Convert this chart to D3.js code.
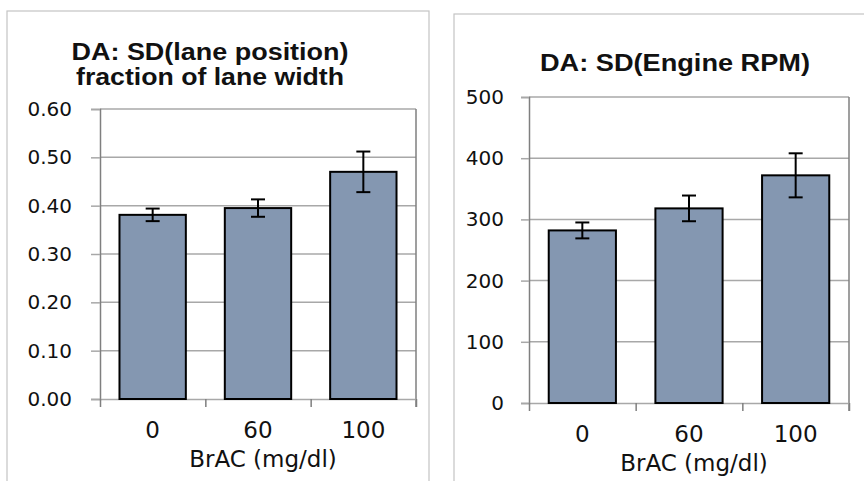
<!DOCTYPE html>
<html>
<head>
<meta charset="utf-8">
<script src="https://cdn.jsdelivr.net/npm/d3@7"></script>
<style>
  body { margin: 0; background: #fff; }
  svg { display: block; }
</style>
</head>
<body>
<svg width="864" height="481"></svg>
<script>
// data
const categories = ["0", "60", "100"];
const laneValues = [0.381, 0.395, 0.470];
const laneErrors = [0.013, 0.018, 0.042];
const rpmValues = [282, 318, 372];
const rpmErrors = [13, 21, 36];
const laneTicks = [0, 0.1, 0.2, 0.3, 0.4, 0.5, 0.6];
const rpmTicks = [0, 100, 200, 300, 400, 500];
const laneTitle = ["DA: SD(lane position)", "fraction of lane width"];
const rpmTitle = ["DA: SD(Engine RPM)"];
const xTitle = "BrAC (mg/dl)";

const svg = d3.select("svg");

const barFill = "#8497b1",
      gridColor = "#a8a8a8",
      frameColor = "#7f7f7f";

function drawPanel(opt) {
  const g = svg.append("g");

  // outer chart frame (runs off the picture)
  g.append("rect")
    .attr("x", opt.frame[0]).attr("y", opt.frame[1])
    .attr("width", opt.frame[2]).attr("height", opt.frame[3])
    .attr("fill", "none")
    .attr("stroke", "#c4c4c4")
    .attr("stroke-width", 1.2);

  const [x0, x1] = opt.xr, [y0, y1] = opt.yr;

  const y = d3.scaleLinear()
    .domain([0, opt.max])
    .range([y0, y1]);

  const x = d3.scaleBand()
    .domain(categories)
    .range([x0, x1])
    .paddingInner(0.37)
    .paddingOuter(0.185);

  const xb = d3.scaleLinear()
    .domain([0, categories.length])
    .range([x0, x1]);

  // gridlines
  g.append("g")
    .selectAll("line")
    .data(opt.ticks.slice(1))
    .enter().append("line")
    .attr("x1", x0).attr("x2", x1)
    .attr("y1", d => y(d)).attr("y2", d => y(d))
    .attr("stroke", gridColor)
    .attr("stroke-width", 1.5);

  // right border
  g.append("line")
    .attr("x1", x1).attr("x2", x1)
    .attr("y1", y(opt.max)).attr("y2", y0 + 8)
    .attr("stroke", frameColor)
    .attr("stroke-width", 1.5);

  // y axis
  const ya = g.append("g")
    .attr("transform", `translate(${x0},0)`)
    .call(d3.axisLeft(y)
      .tickValues(opt.ticks)
      .tickSize(opt.tickSize)
      .tickPadding(opt.tickPad)
      .tickFormat(opt.format));
  ya.select(".domain").attr("stroke", frameColor).attr("stroke-width", 1.5);
  ya.selectAll(".tick line").attr("stroke", gridColor).attr("stroke-width", 1.5);
  ya.selectAll("text")
    .attr("fill", "#111")
    .style("font-family", "DejaVu Sans")
    .style("font-size", "20px");

  // x axis: ticks at category boundaries
  const xa = g.append("g")
    .attr("transform", `translate(0,${y0})`)
    .call(d3.axisBottom(xb)
      .tickValues(d3.range(categories.length + 1))
      .tickSize(8)
      .tickSizeOuter(0)
      .tickFormat(""));
  xa.select(".domain").attr("stroke", gridColor).attr("stroke-width", 1.5);
  xa.selectAll(".tick line").attr("stroke", frameColor).attr("stroke-width", 1.5);

  // bars
  g.append("g")
    .selectAll("rect")
    .data(opt.values)
    .enter().append("rect")
    .attr("x", (d, i) => x(categories[i]))
    .attr("width", x.bandwidth())
    .attr("y", d => y(d))
    .attr("height", d => y0 - y(d))
    .attr("fill", barFill)
    .attr("stroke", "#000")
    .attr("stroke-width", 2);

  // error bars
  const eb = g.append("g")
    .selectAll("g")
    .data(opt.values.map((v, i) => ({ v: v, e: opt.errors[i], c: categories[i] })))
    .enter().append("g")
    .attr("stroke", "#000")
    .attr("stroke-width", 2);
  const cx = d => x(d.c) + x.bandwidth() / 2;
  eb.append("line")
    .attr("x1", cx).attr("x2", cx)
    .attr("y1", d => y(d.v + d.e)).attr("y2", d => y(d.v - d.e));
  eb.append("line")
    .attr("x1", d => cx(d) - 7).attr("x2", d => cx(d) + 7)
    .attr("y1", d => y(d.v + d.e)).attr("y2", d => y(d.v + d.e));
  eb.append("line")
    .attr("x1", d => cx(d) - 7).attr("x2", d => cx(d) + 7)
    .attr("y1", d => y(d.v - d.e)).attr("y2", d => y(d.v - d.e));

  // category labels
  g.append("g")
    .selectAll("text")
    .data(categories)
    .enter().append("text")
    .attr("x", d => x(d) + x.bandwidth() / 2)
    .attr("y", y0 + 39)
    .attr("text-anchor", "middle")
    .attr("fill", "#111")
    .style("font-family", "DejaVu Sans")
    .style("font-size", "23px")
    .text(d => d);

  g.append("text")
    .attr("x", (x0 + x1) / 2 + 5)
    .attr("y", y0 + 68)
    .attr("text-anchor", "middle")
    .attr("fill", "#111")
    .style("font-family", "DejaVu Sans")
    .style("font-size", "23px")
    .text(xTitle);

  // title
  g.append("g")
    .selectAll("text")
    .data(opt.title)
    .enter().append("text")
    .attr("x", opt.titleX)
    .attr("y", (d, i) => opt.titleY + i * 25)
    .attr("text-anchor", "middle")
    .attr("fill", "#111")
    .attr("textLength", (d, i) => opt.titleW[i])
    .attr("lengthAdjust", "spacingAndGlyphs")
    .style("font-family", "Liberation Sans, Arial, sans-serif")
    .style("font-weight", "bold")
    .style("font-size", "23px")
    .text(d => d);
}

drawPanel({
  frame: [7, 11, 422, 520],
  xr: [100, 416], yr: [399, 109],
  max: 0.6, ticks: laneTicks, format: d3.format(".2f"),
  values: laneValues, errors: laneErrors,
  tickSize: 9, tickPad: 19,
  title: laneTitle, titleX: 210, titleY: 60, titleW: [277, 268]
});

drawPanel({
  frame: [454, 14, 460, 520],
  xr: [529, 849], yr: [403, 97],
  max: 500, ticks: rpmTicks, format: d3.format("d"),
  values: rpmValues, errors: rpmErrors,
  tickSize: 8, tickPad: 17,
  title: rpmTitle, titleX: 675, titleY: 71, titleW: [270]
});
</script>
</body>
</html>
